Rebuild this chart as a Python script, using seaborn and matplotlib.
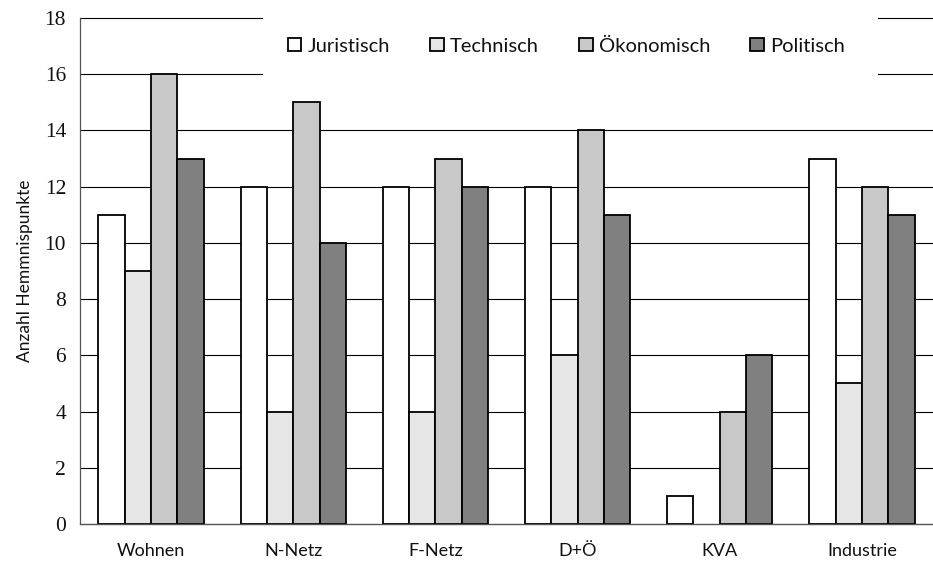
import matplotlib
matplotlib.use("Agg")
import matplotlib.pyplot as plt
import matplotlib.patches as mpatches
import seaborn as sns
import pandas as pd
from matplotlib.ticker import FixedLocator

categories = ["Wohnen", "N-Netz", "F-Netz", "D+Ö", "KVA", "Industrie"]
series = ["Juristisch", "Technisch", "Ökonomisch", "Politisch"]
juristisch = [11, 12, 12, 12, 1, 13]
technisch = [9, 4, 4, 6, 0, 5]
oekonomisch = [16, 15, 13, 14, 4, 12]
politisch = [13, 10, 12, 11, 6, 11]
colors = ["#ffffff", "#e6e6e6", "#c8c8c8", "#808080"]
y_ticks = list(range(0, 19, 2))

rows = []
for s, vals in zip(series, [juristisch, technisch, oekonomisch, politisch]):
    for c, v in zip(categories, vals):
        rows.append({"Kategorie": c, "Typ": s, "Wert": v})
df = pd.DataFrame(rows)

sns.set_theme(style="white")
plt.rcParams["font.family"] = ["Lato", "DejaVu Sans"]
plt.rcParams["text.color"] = "#111111"
plt.rcParams["axes.labelcolor"] = "#111111"
plt.rcParams["xtick.color"] = "#111111"
plt.rcParams["ytick.color"] = "#111111"

fig = plt.figure(figsize=(9.33, 5.64), dpi=100)
ax = fig.add_axes([80/933, 1-524/564, 853/933, 506/564])

sns.barplot(data=df, x="Kategorie", y="Wert", hue="Typ", order=categories,
            hue_order=series, palette=colors, width=0.74, edgecolor="black",
            linewidth=1.3, ax=ax, legend=False, zorder=3)

for p in ax.patches:
    if p.get_height() == 0:
        p.set_visible(False)

ax.set_xlim(-0.5, 5.5)
ax.set_ylim(0, 18)
ax.set_yticks(y_ticks)
ax.set_yticklabels([str(t) for t in y_ticks], fontfamily="Liberation Serif", fontsize=15.5)
ax.yaxis.grid(True, color="black", linewidth=0.8, zorder=0)
for gl in ax.get_ygridlines():
    gl.set_clip_on(False)
ax.set_axisbelow(True)
for sp in ["top", "right"]:
    ax.spines[sp].set_visible(False)
for sp in ["left", "bottom"]:
    ax.spines[sp].set_color("#555555")
    ax.spines[sp].set_linewidth(0.9)
    ax.spines[sp].set_zorder(4)

ax.tick_params(axis="x", which="major", length=0, labelsize=13, pad=14)
ax.xaxis.set_minor_locator(FixedLocator([0.5, 1.5, 2.5, 3.5, 4.5]))
ax.tick_params(axis="x", which="minor", length=5, width=0.9, color="#555555", direction="out")
ax.tick_params(axis="y", which="major", length=5, width=0.9, color="#555555",
               labelcolor="#111111", direction="out", pad=5)
ax.set_xlabel("")
ax.set_ylabel("Anzahl Hemmnispunkte", fontsize=12.5, labelpad=8)

# white legend background covering gridlines
bg = mpatches.Rectangle((183/853, 0.877), (878-263)/853, 0.14, transform=ax.transAxes,
                        facecolor="white", edgecolor="none", zorder=2.5, clip_on=False)
ax.add_patch(bg)

handles = [mpatches.Patch(facecolor=c, edgecolor="black", linewidth=1.3) for c in colors]
leg = ax.legend(handles, series, loc="center left", bbox_to_anchor=(208/853, 0.9447),
                ncol=4, frameon=False, fontsize=14.5, handlelength=0.67, handleheight=0.67,
                handletextpad=0.3, columnspacing=2.0, borderpad=0, borderaxespad=0)
leg.set_zorder(5)

fig.savefig("out.png", dpi=100)
